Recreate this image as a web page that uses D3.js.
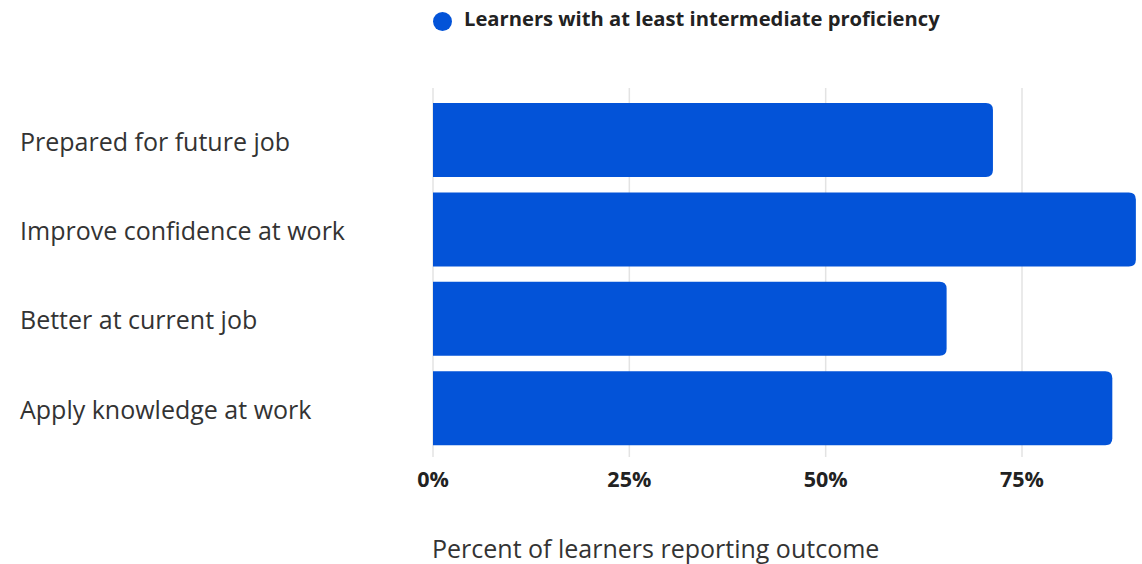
<!DOCTYPE html>
<html>
<head>
<meta charset="utf-8">
<script src="https://cdn.jsdelivr.net/npm/d3@7"></script>
<style>
  html, body { margin: 0; padding: 0; background: #fff; }
  svg { display: block; }
</style>
</head>
<body>
<div id="chart"></div>
<script>
// Outcome categories, top to bottom
const categories = [
  "Prepared for future job",
  "Improve confidence at work",
  "Better at current job",
  "Apply knowledge at work"
];
// Share of learners with at least intermediate proficiency (%)
const values = [71.3, 89.5, 65.4, 86.5];
const tickValues = [0, 25, 50, 75];
const seriesName = "Learners with at least intermediate proficiency";
const axisTitle = "Percent of learners reporting outcome";

const W = 1142, H = 564;
const barColor = "#0353d8";
const font = "'Open Sans', sans-serif";

const svg = d3.select("#chart").append("svg")
  .attr("width", W).attr("height", H);

const x = d3.scaleLinear().domain([0, 75]).range([433, 1022]);
const y = d3.scaleBand().domain(categories)
  .range([95.3, 452.9]).paddingInner(0.172).paddingOuter(0.086);

// vertical gridlines
svg.append("g").selectAll("line").data(tickValues).join("line")
  .attr("x1", d => x(d)).attr("x2", d => x(d))
  .attr("y1", 88).attr("y2", 457)
  .attr("stroke", "#e3e3e3").attr("stroke-width", 1.5);

// bars: square at the baseline, rounded at the value end
const r = 7;
svg.append("g").selectAll("path").data(categories).join("path")
  .attr("fill", barColor)
  .attr("d", (c, i) => {
    const x0 = x(0), x1 = x(values[i]);
    const y0 = y(c), h = y.bandwidth();
    return `M${x0},${y0}H${x1 - r}Q${x1},${y0} ${x1},${y0 + r}` +
           `V${y0 + h - r}Q${x1},${y0 + h} ${x1 - r},${y0 + h}H${x0}Z`;
  });

// category labels
svg.append("g").selectAll("text").data(categories).join("text")
  .attr("x", 20).attr("y", c => y(c) + y.bandwidth() / 2 + 10.5)
  .attr("font-family", font).attr("font-size", 25)
  .attr("fill", "#333")
  .text(c => c);

// x tick labels
svg.append("g").selectAll("text").data(tickValues).join("text")
  .attr("x", d => x(d)).attr("y", 487)
  .attr("text-anchor", "middle")
  .attr("font-family", font).attr("font-size", 21.5).attr("font-weight", 700)
  .attr("fill", "#222")
  .text(d => d + "%");

// axis title
svg.append("text")
  .attr("x", 432).attr("y", 558)
  .attr("font-family", font).attr("font-size", 25)
  .attr("fill", "#333")
  .text(axisTitle);

// legend
svg.append("circle").attr("cx", 442.5).attr("cy", 21.5).attr("r", 9.5).attr("fill", barColor);
svg.append("text")
  .attr("x", 464).attr("y", 26)
  .attr("font-family", font).attr("font-size", 20.2).attr("font-weight", 700)
  .attr("fill", "#222")
  .text(seriesName);
</script>
</body>
</html>
